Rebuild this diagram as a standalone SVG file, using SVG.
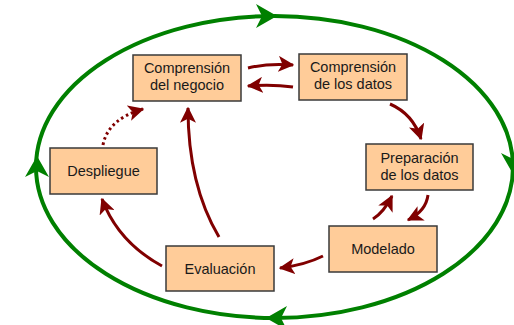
<svg xmlns="http://www.w3.org/2000/svg" width="514" height="325" viewBox="0 0 514 325">
<defs>
<style>
.box{fill:#FFCC99;stroke:#3a3a3a;stroke-width:1.5}
.lbl{font-family:"Liberation Sans",Arial,sans-serif;font-size:14.5px;fill:#1a1a1a;text-anchor:middle}
.red{fill:none;stroke:#800000;stroke-width:3}
.dot{stroke-dasharray:2.5 3}
.cycle{fill:none;stroke:#008000;stroke-width:4}
.ghead{fill:#008000}
</style>
<marker id="ah" viewBox="0 0 12 12" refX="11" refY="6" markerWidth="16" markerHeight="16" markerUnits="userSpaceOnUse" orient="auto">
<path d="M0,0 L12,6 L0,12 L3,6 z" fill="#800000"/>
</marker>
<path id="gh" d="M0,0 L-21,-12 L-15,0 L-21,12 z"/>
</defs>
<g id="cycle">
<ellipse class="cycle" cx="274.5" cy="167" rx="238.5" ry="151"/>
<use href="#gh" class="ghead" transform="translate(277,16)"/>
<use href="#gh" class="ghead" transform="translate(513,174) rotate(90)"/>
<use href="#gh" class="ghead" transform="translate(266,318) rotate(180)"/>
<use href="#gh" class="ghead" transform="translate(37,156) rotate(-90)"/>
</g>
<g id="connectors">
<path class="red" d="M248,68 Q268,63 293,65" marker-end="url(#ah)"/>
<path class="red" d="M293,87 Q272,84 248,86" marker-end="url(#ah)"/>
<path class="red" d="M390,104 Q413,114 421,139" marker-end="url(#ah)"/>
<path class="red" d="M428,195 Q426,211 408,220" marker-end="url(#ah)"/>
<path class="red" d="M373,219 Q384,212 392,196" marker-end="url(#ah)"/>
<path class="red" d="M323,256 Q305,265 280,268" marker-end="url(#ah)"/>
<path class="red" d="M219,237 Q188,185 188,108" marker-end="url(#ah)"/>
<path class="red" d="M162,266 Q118,242 102,199" marker-end="url(#ah)"/>
<path class="red dot" d="M103,145 Q108,119 143,109" marker-end="url(#ah)"/>
</g>
<g id="negocio">
<rect class="box" x="133" y="55" width="108" height="46"/>
<text class="lbl" x="187" y="73">Comprensión</text>
<text class="lbl" x="187" y="90">del negocio</text>
</g>
<g id="datos">
<rect class="box" x="299" y="54" width="108" height="46"/>
<text class="lbl" x="353" y="72">Comprensión</text>
<text class="lbl" x="353" y="89">de los datos</text>
</g>
<g id="preparacion">
<rect class="box" x="366" y="144" width="107" height="46"/>
<text class="lbl" x="419.5" y="163">Preparación</text>
<text class="lbl" x="419.5" y="180">de los datos</text>
</g>
<g id="modelado">
<rect class="box" x="329" y="226" width="108" height="46"/>
<text class="lbl" x="383" y="254">Modelado</text>
</g>
<g id="evaluacion">
<rect class="box" x="166" y="246" width="108" height="45"/>
<text class="lbl" x="220" y="274">Evaluación</text>
</g>
<g id="despliegue">
<rect class="box" x="50" y="148" width="107" height="46"/>
<text class="lbl" x="103.5" y="176">Despliegue</text>
</g>
</svg>
